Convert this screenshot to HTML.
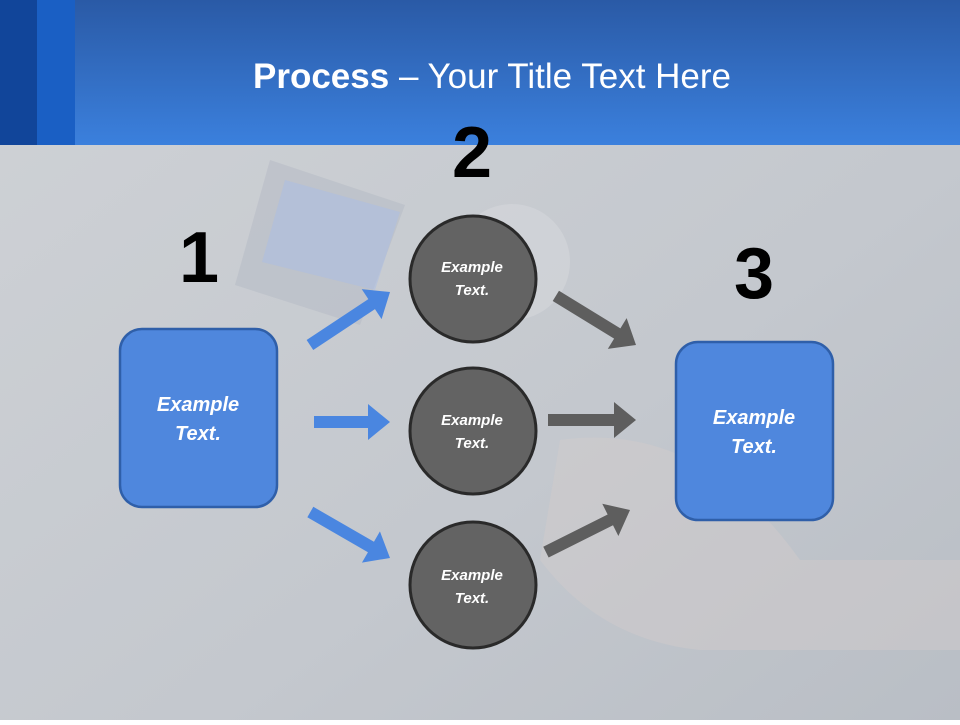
<!DOCTYPE html>
<html><head><meta charset="utf-8"><style>
html,body{margin:0;padding:0}
body{width:960px;height:720px;overflow:hidden;font-family:"Liberation Sans",sans-serif;}
</style></head><body>
<svg width="960" height="720" xmlns="http://www.w3.org/2000/svg">
<defs>
<linearGradient id="hd" x1="0" y1="0" x2="0" y2="1"><stop offset="0" stop-color="#2a5aa6"/><stop offset="1" stop-color="#3b80dd"/></linearGradient>
<linearGradient id="bg" x1="0" y1="0" x2="1" y2="1"><stop offset="0" stop-color="#cfd2d6"/><stop offset="0.6" stop-color="#c4c8ce"/><stop offset="1" stop-color="#b9bec5"/></linearGradient>
</defs>
<rect width="960" height="720" fill="url(#bg)"/>
<polygon points="270,160 405,205 360,325 235,285" fill="#b8bcc6" opacity="0.6"/>
<polygon points="285,180 400,212 375,290 262,262" fill="#a9bde6" opacity="0.5"/>
<circle cx="512" cy="262" r="58" fill="#d8dadd" opacity="0.5"/>
<path d="M560,440 Q700,420 800,560 L960,560 L960,650 L700,650 Q600,640 540,560Z" fill="#d3cccb" opacity="0.45"/>
<rect x="0" y="0" width="960" height="145" fill="url(#hd)"/>
<rect x="0" y="0" width="37" height="145" fill="#11459a"/>
<rect x="37" y="0" width="38" height="145" fill="#1a5fc4"/>
<text x="492" y="88" text-anchor="middle" fill="#fff" font-size="35" font-family="Liberation Sans, sans-serif"><tspan font-weight="bold">Process</tspan> – Your Title Text Here</text>
<g font-weight="bold" font-size="72" text-anchor="middle" fill="#000">
<text x="199" y="282">1</text><text x="472" y="177">2</text><text x="754" y="298">3</text></g>
<rect x="120" y="329" width="157" height="178" rx="22" fill="#4f87dd" stroke="#2f5fa9" stroke-width="2.5"/>
<rect x="676" y="342" width="157" height="178" rx="22" fill="#4f87dd" stroke="#2f5fa9" stroke-width="2.5"/>
<g fill="#636363" stroke="#2a2a2a" stroke-width="3">
<circle cx="473" cy="279" r="63"/><circle cx="473" cy="431" r="63"/><circle cx="473" cy="585" r="63"/></g>
<g fill="#fff" font-style="italic" font-weight="bold" text-anchor="middle">
<text x="198" y="411" font-size="20">Example</text><text x="198" y="440" font-size="20">Text.</text>
<text x="754" y="424" font-size="20">Example</text><text x="754" y="453" font-size="20">Text.</text>
<text x="472" y="272" font-size="15">Example</text><text x="472" y="295" font-size="15">Text.</text>
<text x="472" y="425" font-size="15">Example</text><text x="472" y="448" font-size="15">Text.</text>
<text x="472" y="580" font-size="15">Example</text><text x="472" y="603" font-size="15">Text.</text>
</g>
<g fill="#4a86e0">
<polygon transform="translate(390,292) rotate(-33.5)" points="0,0 -22,-18 -22,-6 -96,-6 -96,6 -22,6 -22,18"/>
<polygon transform="translate(390,422)" points="0,0 -22,-18 -22,-6 -76,-6 -76,6 -22,6 -22,18"/>
<polygon transform="translate(390,558) rotate(30)" points="0,0 -22,-18 -22,-6 -92,-6 -92,6 -22,6 -22,18"/>
</g>
<g fill="#5e5e5e">
<polygon transform="translate(636,345) rotate(31.5)" points="0,0 -22,-18 -22,-6 -94,-6 -94,6 -22,6 -22,18"/>
<polygon transform="translate(636,420)" points="0,0 -22,-18 -22,-6 -88,-6 -88,6 -22,6 -22,18"/>
<polygon transform="translate(630,510) rotate(-26.6)" points="0,0 -22,-18 -22,-6 -94,-6 -94,6 -22,6 -22,18"/>
</g>
</svg>
</body></html>
